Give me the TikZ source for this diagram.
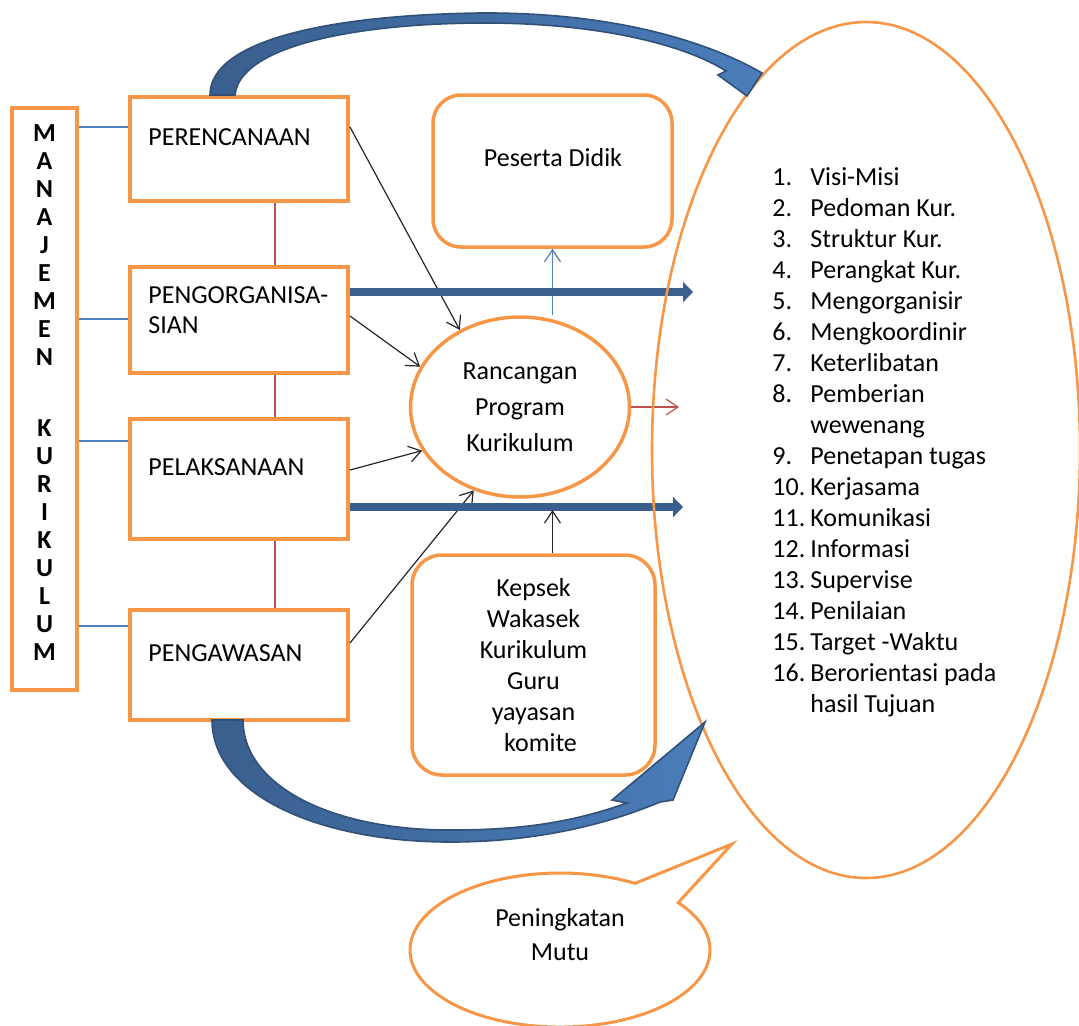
\documentclass[tikz,border=0pt]{standalone}
\usepackage{fontspec}
\setmainfont{Carlito}
\usetikzlibrary{shapes.geometric,arrows.meta}

\definecolor{orangeLine}{HTML}{F79646}
\definecolor{blueDark}{HTML}{3A5F8E}
\definecolor{blueMid}{HTML}{4A7DBA}
\definecolor{blueThin}{HTML}{4F81BD}
\definecolor{redThin}{HTML}{C0504D}

\tikzset{
  stagebox/.style={draw=orangeLine, line width=2pt, rectangle, inner sep=0pt, minimum width=109pt},
  roundbox/.style={draw=orangeLine, line width=1.75pt, rectangle, rounded corners=14pt, inner sep=0pt},
  stagetext/.style={anchor=west, inner sep=0pt},
  linkBlue/.style={draw=blueThin, line width=0.6pt},
  linkRed/.style={draw=redThin, line width=0.6pt},
  openhead/.style={-{Straight Barb[length=6pt,width=8pt]}},
  feed/.style={draw=black!85, line width=0.6pt, openhead},
  bigflow/.style={draw=blueDark, line width=4pt, -{Triangle[length=5pt,width=10pt]}},
  bendarrow/.style={left color=blueDark, right color=blueMid, draw=blueDark!85!black, line width=0.8pt}
}

\begin{document}
\begin{tikzpicture}[x=0.5pt, y=-0.5pt, font=\fontsize{13}{15.5}\selectfont]
\useasboundingbox (0,0) rectangle (1079,1025);

% left bar
\node[stagebox, minimum width=32.5pt, minimum height=291pt] (mk) at (44.5,399) {};
\node[font=\fontsize{13}{14}\selectfont\bfseries, align=center, inner sep=0pt] (mkText) at (44.5,392.5)
  {M\\A\\N\\A\\J\\E\\M\\E\\N\\[21.5pt]K\\U\\R\\I\\K\\U\\L\\U\\M};

% stages
\node[stagebox, minimum height=52pt] (plan) at (239,149) {};
\node[stagebox, minimum height=53pt] (org) at (239,320) {};
\node[stagebox, minimum height=60pt] (exec) at (239,479) {};
\node[stagebox, minimum height=55pt] (ctrl) at (239,665) {};
\node[stagetext] (planText) at (148,137) {PERENCANAAN};
\node[stagetext, align=left, font=\fontsize{13}{15}\selectfont] (orgText) at (148,310) {PENGORGANISA-\\SIAN};
\node[stagetext] (execText) at (148,467) {PELAKSANAAN};
\node[stagetext] (ctrlText) at (148,653) {PENGAWASAN};

% middle
\node[roundbox, minimum width=119.5pt, minimum height=76pt] (pd) at (552.5,171) {};
\node[inner sep=0pt] (pdText) at (553,158) {Peserta Didik};
\node[draw=orangeLine, line width=1.75pt, ellipse, minimum width=109.5pt, minimum height=90pt,
  inner sep=0pt, align=center, font=\fontsize{13}{18}\selectfont] (rpk) at (520,407)
  {Rancangan\\Program\\Kurikulum};
\node[roundbox, rounded corners=15pt, minimum width=121.5pt, minimum height=110pt, align=center] (kep) at (533.5,665)
  {Kepsek\\Wakasek\\Kurikulum\\Guru\\yayasan\\\hspace*{7pt}komite};

% thin links
\draw[linkBlue] (mk.east |- 0,127) -- (plan.west |- 0,127);
\draw[linkBlue] (mk.east |- 0,319) -- (org.west |- 0,319);
\draw[linkBlue] (mk.east |- 0,441) -- (exec.west |- 0,441);
\draw[linkBlue] (mk.east |- 0,626) -- (ctrl.west |- 0,626);
\draw[linkRed] (plan.south -| 275,0) -- (org.north -| 275,0);
\draw[linkRed] (org.south -| 275,0) -- (exec.north -| 275,0);
\draw[linkRed] (exec.south -| 275,0) -- (ctrl.north -| 275,0);

\draw[feed] (plan.east |- 0,127) -- (rpk.128);
\draw[feed] (org.east |- 0,316) -- (rpk.158);
\draw[feed] (exec.east |- 0,470) -- (rpk.204);
\draw[feed] (ctrl.east |- 0,643) -- (rpk.241);
\draw[linkBlue, openhead] (rpk.north -| pd.south) -- (pd.south);
\coordinate (redEnd) at (679,407);
\draw[linkRed, openhead] (rpk.east) -- (redEnd);

% broad arrows
\coordinate (flowA) at (693,292);
\coordinate (flowB) at (683,507);
\draw[bigflow] (org.east |- flowA) -- (flowA);
\draw[bigflow] (exec.east |- flowB) -- (flowB);
\draw[feed, shorten >=1.5pt] (kep.north -| pd.south) -- (flowB -| pd.south);

% goals
\node[draw=orangeLine, line width=1.3pt, ellipse, minimum width=214pt, minimum height=428pt, inner sep=0pt] (goals) at (866,450) {};
\node[anchor=north west, inner sep=0pt] (goalList) at (772,163) {%
\begin{tabular}{@{}p{19pt}@{}l@{}}
1. & Visi-Misi\\
2. & Pedoman Kur.\\
3. & Struktur Kur.\\
4. & Perangkat Kur.\\
5. & Mengorganisir\\
6. & Mengkoordinir\\
7. & Keterlibatan\\
8. & Pemberian\\
   & wewenang\\
9. & Penetapan tugas\\
10. & Kerjasama\\
11. & Komunikasi\\
12. & Informasi\\
13. & Supervise\\
14. & Penilaian\\
15. & Target -Waktu\\
16. & Berorientasi pada\\
    & hasil Tujuan
\end{tabular}};

% curved arrows
\path[bendarrow] (210,95) .. controls (210,40) and (330,15) .. (480,13)
  .. controls (610,12) and (705,40) .. (762,73)
  -- (747,96) -- (718,75) -- (726,71)
  .. controls (680,42) and (590,23) .. (485,23)
  .. controls (360,23) and (240,45) .. (235,95) -- cycle;
\path[bendarrow] (212,720) .. controls (212,795) and (320,842) .. (450,842)
  .. controls (540,842) and (610,823) .. (660,802)
  -- (673,800) -- (705,722) -- (612,800) -- (627,803)
  .. controls (570,823) and (520,830) .. (450,830)
  .. controls (330,830) and (243,785) .. (243,720) -- cycle;

% callout
\draw[orangeLine, line width=1.5pt] (560,950) ++(-38:150 and 77)
  arc[start angle=-38, end angle=300, x radius=150, y radius=77] -- (732,844) -- cycle;
\node[align=center, inner sep=0pt, font=\fontsize{13}{17}\selectfont] (mutuText) at (560,935) {Peningkatan\\Mutu};

\end{tikzpicture}
\end{document}
